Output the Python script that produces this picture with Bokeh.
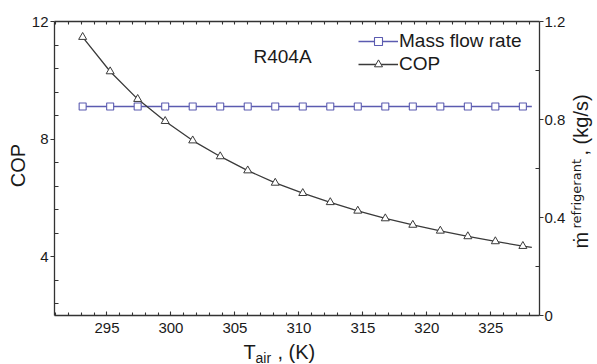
from math import pi
from bokeh.plotting import figure
from bokeh.layouts import row, column
from bokeh.models import Range1d, LinearAxis, FixedTicker, Label, Legend, LegendItem
from bokeh.embed import file_html
from bokeh.resources import INLINE

# ---- data ----
t_air = [293.1, 295.25, 297.4, 299.55, 301.7, 303.85, 306.0, 308.15, 310.3,
         312.45, 314.6, 316.75, 318.9, 321.05, 323.2, 325.35, 327.5]
cop = [11.47, 10.30, 9.36, 8.61, 7.95, 7.41, 6.93, 6.51, 6.16,
       5.85, 5.56, 5.30, 5.08, 4.88, 4.69, 4.52, 4.36]
mass_flow = [0.853, 0.853, 0.853, 0.853, 0.853, 0.853, 0.853, 0.853, 0.853,
             0.853, 0.853, 0.853, 0.853, 0.853, 0.853, 0.853, 0.853]
t_end = [328.2]
cop_end = [4.32]
mass_flow_end = [0.853]

x_major = [295, 300, 305, 310, 315, 320, 325]
x_minor = [291, 292, 293, 294, 296, 297, 298, 299, 301, 302, 303, 304, 306, 307, 308, 309,
           311, 312, 313, 314, 316, 317, 318, 319, 321, 322, 323, 324, 326, 327, 328]
y_major = [4, 8, 12]
y_minor = [2.4, 3.2, 4.8, 5.6, 6.4, 7.2, 8.8, 9.6, 10.4, 11.2]
y2_major = [0, 0.4, 0.8, 1.2]
y2_minor = [0.2, 0.6, 1.0]
y2_labels = {0: "0", 0.4: "0.4", 0.8: "0.8", 1.2: "1.2"}

FONT = "Liberation Sans"
TXT = "#1a1a1a"
AX = "#333333"
BLUE = "#5b5bb0"
DARK = "#3a3a3a"

# layout geometry (pixels)
LEFT_W, RIGHT_W, MAIN_W, MAIN_H, BOTTOM_H = 28, 29, 540, 340, 24
FRAME_BOTTOM = 315  # canvas y of the plot frame bottom (side figures share it)

p = figure(width=MAIN_W, height=MAIN_H, output_backend="svg", toolbar_location=None,
           title=None,
           x_range=Range1d(290.9, 328.8), y_range=Range1d(2, 12),
           min_border_left=26, min_border_right=26, min_border_top=21, min_border_bottom=25)
p.extra_y_ranges = {"flow": Range1d(0, 1.2)}
p.outline_line_color = None
p.xgrid.visible = False
p.ygrid.visible = False
p.background_fill_color = "white"
p.border_fill_color = "white"


def style_axis(ax, tin, tout, mtin, mtout, standoff, fs="15px"):
    ax.axis_line_color = AX
    ax.axis_line_width = 1.3
    ax.major_tick_line_color = AX
    ax.minor_tick_line_color = AX
    ax.major_tick_line_width = 1.1
    ax.minor_tick_line_width = 1.1
    ax.major_tick_in = tin
    ax.major_tick_out = tout
    ax.minor_tick_in = mtin
    ax.minor_tick_out = mtout
    ax.major_label_standoff = standoff
    ax.major_label_text_font = FONT
    ax.major_label_text_font_size = fs
    ax.major_label_text_color = TXT


xb = p.xaxis[0]
xb.ticker = FixedTicker(ticks=x_major, minor_ticks=x_minor)
style_axis(xb, 4, 0, 3, 0, 7)
yl = p.yaxis[0]
yl.ticker = FixedTicker(ticks=y_major, minor_ticks=y_minor)
style_axis(yl, 0, 4, 4, 0, 2)
xt = LinearAxis(ticker=FixedTicker(ticks=x_major, minor_ticks=x_minor))
style_axis(xt, 3, 0, 3, 0, 0)
xt.major_label_text_alpha = 0
xt.major_label_text_font_size = "1px"
p.add_layout(xt, "above")
yr = LinearAxis(y_range_name="flow", ticker=FixedTicker(ticks=y2_major, minor_ticks=y2_minor),
                major_label_overrides=y2_labels)
style_axis(yr, 0, 4, 4, 0, 1)
p.add_layout(yr, "right")

# ---- series ----
l_flow = p.line(t_air + t_end, mass_flow + mass_flow_end, y_range_name="flow",
                line_color=BLUE, line_width=1.3)
s_flow = p.scatter(t_air, mass_flow, y_range_name="flow", marker="square", size=7,
                   line_color=BLUE, fill_color="white", line_width=1.1)
l_cop = p.line(t_air + t_end, cop + cop_end, line_color=DARK, line_width=1.3)
s_cop = p.scatter(t_air, cop, marker="triangle", size=8,
                  line_color=DARK, fill_color="white", line_width=1.0)

legend = Legend(items=[LegendItem(label="Mass flow rate", renderers=[l_flow, s_flow]),
                       LegendItem(label="COP", renderers=[l_cop, s_cop])],
                location=(304, 240), glyph_width=40, glyph_height=20, label_height=20,
                spacing=1, padding=0, margin=0, label_standoff=1,
                label_text_font=FONT, label_text_font_size="19px", label_text_color=TXT,
                background_fill_alpha=0, border_line_color=None)
p.add_layout(legend, "center")

p.add_layout(Label(x=253 - 54, y=FRAME_BOTTOM - 56, x_units="screen", y_units="screen",
                   text="R404A", text_baseline="alphabetic", text_font=FONT,
                   text_font_size="19px", text_color=TXT))


def text_fig(w, h):
    f = figure(width=w, height=h, output_backend="svg", toolbar_location=None, title=None,
               x_range=Range1d(0, w), y_range=Range1d(0, h), x_axis_type=None, y_axis_type=None,
               min_border=0)
    f.outline_line_color = None
    f.background_fill_color = "white"
    f.border_fill_color = "white"
    return f


def put(f, text, x, y, size, angle=0, align="left", font=FONT):
    f.add_layout(Label(x=x, y=y, x_units="screen", y_units="screen", text=text, angle=angle,
                       text_align=align, text_baseline="alphabetic", text_font=font,
                       text_font_size=size, text_color=TXT))


# left title (canvas x 0..28; frame shares y 21..315 with the plot)
fl = text_fig(LEFT_W, MAIN_H)
put(fl, "COP", 17, FRAME_BOTTOM - 165, "20px", angle=pi / 2, align="center")

# right title (canvas x 568..597)
fr = text_fig(RIGHT_W, MAIN_H)
put(fr, "\u1e41", 12, FRAME_BOTTOM - 248, "20px", angle=pi / 2)
put(fr, "refrigerant", 8, FRAME_BOTTOM - 228, "13px", angle=pi / 2, font="DejaVu Sans")
put(fr, ", (kg/s)", 12, FRAME_BOTTOM - 155, "20px", angle=pi / 2)

# bottom title (canvas y 340..364)
fb = text_fig(LEFT_W + MAIN_W + RIGHT_W, BOTTOM_H)
put(fb, "T", 243, 13, "20px")
put(fb, "air", 255, 7, "14px")
put(fb, ", (K)", 277, 13, "20px")

layout = column(row(fl, p, fr, spacing=0), fb, spacing=0)
open("out.html", "w").write(file_html(layout, INLINE))
